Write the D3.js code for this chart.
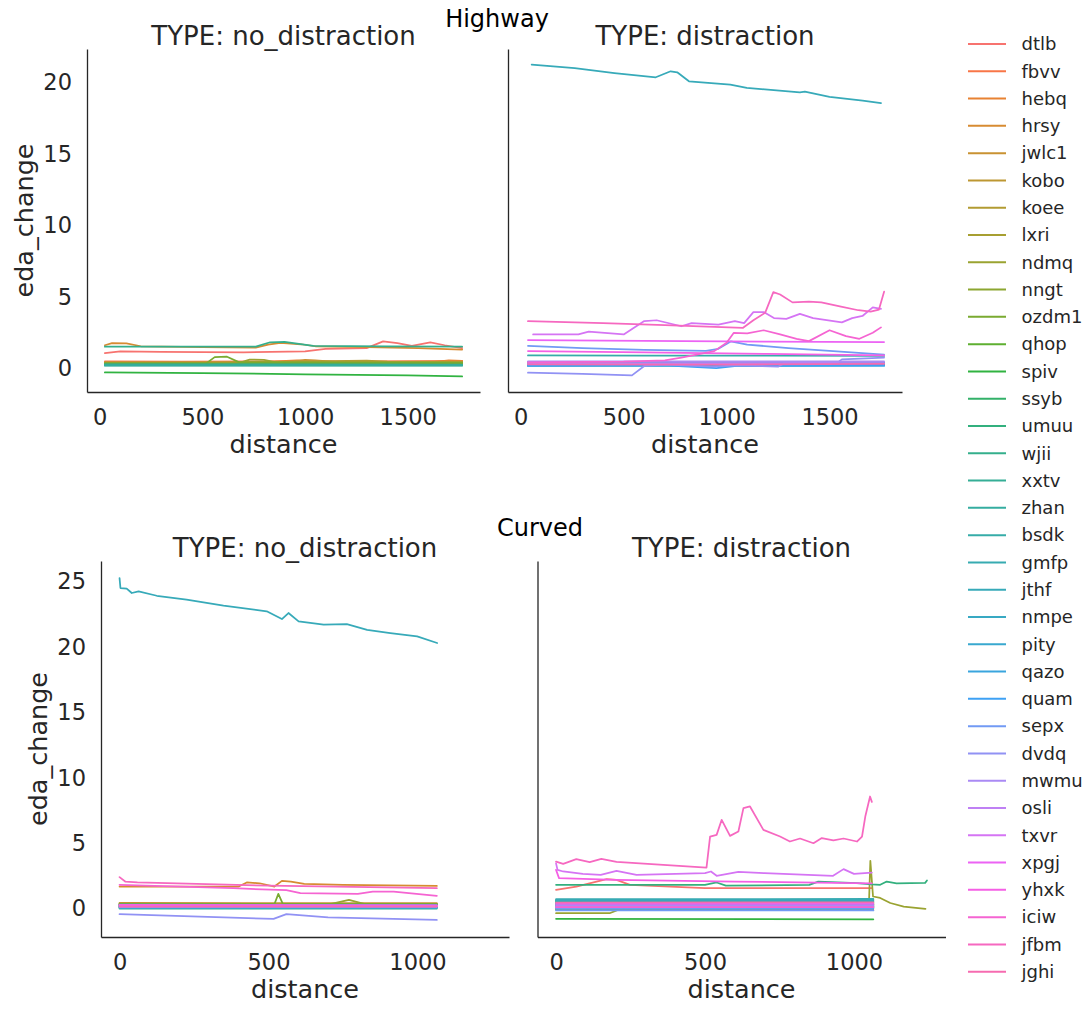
<!DOCTYPE html>
<html><head><meta charset="utf-8">
<script src="https://cdn.jsdelivr.net/npm/d3@7"></script>
<style>body{margin:0;background:#fff}svg{display:block}text{font-family:"DejaVu Sans",sans-serif}</style>
</head><body><svg id="c" width="1089" height="1011"></svg>
<script>
const participants = ["dtlb","fbvv","hebq","hrsy","jwlc1","kobo","koee","lxri","ndmq","nngt","ozdm1","qhop","spiv","ssyb","umuu","wjii","xxtv","zhan","bsdk","gmfp","jthf","nmpe","pity","qazo","quam","sepx","dvdq","mwmu","osli","txvr","xpgj","yhxk","iciw","jfbm","jghi"];
const hwXTicks = [0,500,1000,1500];
const hwYTicks = [0,5,10,15,20];
const cvXTicks = [0,500,1000];
const cvYTicks = [0,5,10,15,20,25];

// Highway, no_distraction: [participant, [distance, eda_change, ...]]
const hwNoDist = [
 ["dtlb",[25,1.0,100,1.12,300,1.08,700,1.05,1000,1.12,1100,1.3,1300,1.35,1380,1.82,1450,1.7,1520,1.5,1610,1.75,1680,1.55,1765,1.35]],
 ["fbvv",[25,0.42,400,0.4,900,0.43,1300,0.42,1765,0.45]],
 ["hebq",[25,0.3,700,0.32,960,0.5,1100,0.35,1600,0.33,1700,0.5,1765,0.45]],
 ["hrsy",[25,1.55,60,1.7,130,1.68,200,1.48,500,1.42,760,1.38,820,1.6,880,1.72,980,1.62,1050,1.48,1300,1.42,1550,1.35,1765,1.25]],
 ["jwlc1",[25,0.35,900,0.36,1000,0.52,1050,0.5,1150,0.38,1765,0.4]],
 ["kobo",[25,0.28,1765,0.3]],
 ["koee",[25,0.33,600,0.35,1300,0.48,1400,0.4,1765,0.38]],
 ["lxri",[25,0.22,1765,0.25]],
 ["ndmq",[25,0.3,680,0.32,730,0.55,800,0.52,860,0.35,1765,0.35]],
 ["nngt",[25,0.25,1765,0.28]],
 ["ozdm1",[25,0.28,520,0.3,560,0.72,620,0.75,680,0.35,1765,0.32]],
 ["qhop",[25,0.18,1765,0.2]],
 ["spiv",[25,-0.35,500,-0.4,1000,-0.48,1500,-0.56,1765,-0.63]],
 ["ssyb",[25,0.2,1765,0.18]],
 ["umuu",[25,0.15,1765,0.15]],
 ["wjii",[25,1.45,760,1.45,830,1.76,900,1.78,1040,1.5,1400,1.48,1765,1.45]],
 ["xxtv",[25,0.22,1765,0.2]],
 ["zhan",[25,0.12,1765,0.12]]
];

// Highway, distraction
const hwDist = [
 ["dtlb",[35,0.3,600,0.28,1200,0.3,1765,0.32]],
 ["fbvv",[35,0.15,1765,0.18]],
 ["hebq",[35,0.25,1765,0.22]],
 ["bsdk",[35,0.84,600,0.83,1200,0.82,1765,0.8]],
 ["gmfp",[35,0.3,1765,0.3]],
 ["jthf",[53,21.19,262,20.95,455,20.6,656,20.3,728,20.72,760,20.65,817,20.02,1018,19.79,1098,19.56,1356,19.25,1380,19.3,1500,18.93,1661,18.67,1750,18.5]],
 ["nmpe",[35,0.1,1765,0.12]],
 ["pity",[35,0.38,1765,0.36]],
 ["qazo",[35,0.2,1765,0.2]],
 ["quam",[35,0.1,700,0.15,950,-0.05,1050,0.1,1765,0.12]],
 ["sepx",[35,1.5,300,1.35,600,1.22,900,1.15,960,1.3,1020,1.82,1100,1.6,1300,1.35,1500,1.15,1765,0.9]],
 ["dvdq",[35,-0.37,300,-0.45,540,-0.56,600,0.1,700,0.2,930,0.05,1050,0.15,1250,0.05,1280,0.3,1540,0.35,1560,0.56,1765,0.68]],
 ["mwmu",[35,0.42,1765,0.42]],
 ["osli",[35,0.28,1765,0.3]],
 ["txvr",[60,2.31,280,2.31,330,2.5,500,2.31,600,3.24,660,3.3,780,2.88,830,3.1,960,3.0,1040,3.24,1085,3.1,1130,3.87,1180,3.87,1230,3.45,1290,3.4,1356,3.75,1420,3.45,1560,3.15,1610,3.45,1660,3.6,1710,4.2,1750,4.1]],
 ["xpgj",[35,1.91,600,1.85,1200,1.8,1765,1.77]],
 ["yhxk",[35,1.14,600,1.05,1200,0.95,1765,0.84]],
 ["iciw",[35,0.35,500,0.4,700,0.5,780,0.68,940,1.14,1000,1.72,1035,2.42,1100,2.38,1180,2.6,1260,2.31,1340,2.0,1400,1.84,1500,2.6,1580,2.19,1645,2.0,1710,2.42,1750,2.8]],
 ["jfbm",[35,3.24,400,3.1,700,2.95,1080,2.77,1130,3.3,1187,3.82,1227,5.27,1260,5.1,1320,4.55,1400,4.6,1460,4.55,1550,4.27,1640,4.0,1700,3.9,1740,4.05,1765,5.3]],
 ["jghi",[35,0.22,900,0.2,1765,0.25]]
];

// Curved, no_distraction
const cvNoDist = [
 ["dtlb",[0,0.2,1065,0.18]],
 ["fbvv",[0,0.1,1065,0.12]],
 ["hebq",[0,0.3,1065,0.28]],
 ["hrsy",[0,1.63,400,1.63,427,1.94,470,1.88,520,1.63,545,2.06,575,2.0,620,1.83,750,1.76,1065,1.68]],
 ["jwlc1",[0,0.38,1065,0.36]],
 ["kobo",[0,0.25,1065,0.25]],
 ["koee",[0,0.32,1065,0.3]],
 ["lxri",[0,0.15,1065,0.15]],
 ["ndmq",[0,0.25,700,0.25,770,0.61,830,0.25,1065,0.25]],
 ["nngt",[0,0.22,1065,0.2]],
 ["ozdm1",[0,0.3,520,0.3,533,1.07,548,0.3,1065,0.3]],
 ["qhop",[0,0.05,1065,0.05]],
 ["spiv",[0,0.1,1065,0.08]],
 ["ssyb",[0,0.0,1065,0.02]],
 ["umuu",[0,0.12,1065,0.1]],
 ["wjii",[0,0.18,1065,0.16]],
 ["xxtv",[0,-0.05,1065,-0.05]],
 ["zhan",[0,0.08,1065,0.06]],
 ["bsdk",[0,0.2,1065,0.2]],
 ["gmfp",[0,0.15,1065,0.12]],
 ["jthf",[0,25.2,3,24.44,24,24.4,41,24.06,64,24.18,125,23.85,225,23.55,349,23.09,494,22.66,545,22.07,567,22.53,601,21.89,685,21.64,763,21.68,831,21.25,909,21.0,999,20.74,1066,20.24]],
 ["nmpe",[0,0.05,1065,0.05]],
 ["pity",[0,0.25,1065,0.22]],
 ["qazo",[0,0.0,1065,0.0]],
 ["quam",[0,0.1,1065,0.1]],
 ["sepx",[0,0.18,1065,0.15]],
 ["dvdq",[0,-0.48,517,-0.84,560,-0.48,700,-0.72,1065,-0.92]],
 ["mwmu",[0,0.08,1065,0.1]],
 ["osli",[0,0.12,1065,0.12]],
 ["txvr",[0,0.2,1065,0.18]],
 ["xpgj",[0,0.15,1065,0.15]],
 ["yhxk",[0,0.22,1065,0.2]],
 ["iciw",[0,1.76,382,1.5,560,1.35,607,1.12,800,1.07,850,1.25,920,1.25,1065,0.92]],
 ["jfbm",[0,2.35,20,2.0,60,1.95,500,1.7,1065,1.5]],
 ["jghi",[0,0.1,1065,0.1]]
];

// Curved, distraction
const cvDist = [
 ["dtlb",[0,1.38,68,1.63,170,2.19,203,2.14,248,1.76,500,1.5,1060,1.5]],
 ["fbvv",[0,0.3,1065,0.3]],
 ["hebq",[0,0.45,1065,0.45]],
 ["hrsy",[0,0.2,1065,0.2]],
 ["jwlc1",[0,0.1,1065,0.12]],
 ["kobo",[0,0.35,1065,0.35]],
 ["koee",[0,-0.1,1065,-0.08]],
 ["lxri",[0,0.25,1065,0.25]],
 ["ndmq",[0,-0.41,180,-0.41,225,0.0,500,-0.05,560,-0.1,580,0.1,1050,0.1,1055,3.6,1064,0.87,1088,0.76,1122,0.37,1167,0.1,1240,-0.08]],
 ["nngt",[0,0.05,1065,0.05]],
 ["ozdm1",[0,-0.15,1065,-0.18]],
 ["qhop",[0,0.15,1065,0.15]],
 ["spiv",[0,-0.84,1065,-0.87]],
 ["ssyb",[0,0.0,1065,0.0]],
 ["umuu",[0,1.76,500,1.76,539,1.94,570,1.7,850,1.76,880,2.0,1010,1.9,1060,1.8,1088,1.76,1110,2.01,1143,1.88,1239,1.91,1245,2.09]],
 ["wjii",[0,0.55,1065,0.55]],
 ["xxtv",[0,0.6,1065,0.62]],
 ["zhan",[0,0.4,1065,0.4]],
 ["bsdk",[0,0.5,1065,0.5]],
 ["gmfp",[0,0.66,1065,0.68]],
 ["jthf",[0,0.58,1065,0.6]],
 ["nmpe",[0,0.3,1065,0.28]],
 ["pity",[0,0.2,1065,0.22]],
 ["qazo",[0,0.1,1065,0.1]],
 ["quam",[0,-0.05,1065,-0.05]],
 ["sepx",[0,-0.2,1065,-0.2]],
 ["dvdq",[0,0.0,1065,0.02]],
 ["mwmu",[0,0.2,1065,0.18]],
 ["osli",[0,0.1,1065,0.1]],
 ["txvr",[0,3.4,5,2.9,24,2.78,90,2.6,150,2.52,203,2.83,270,2.52,500,2.65,520,2.78,539,2.45,612,2.75,700,2.65,930,2.45,965,2.96,1000,2.6,1060,2.7]],
 ["xpgj",[0,0.3,1065,0.3]],
 ["yhxk",[0,2.9,10,2.27,200,2.14,600,2.01,1060,1.88]],
 ["iciw",[0,0.05,1065,0.05]],
 ["jfbm",[0,3.54,24,3.36,68,3.72,113,3.5,152,3.75,203,3.52,360,3.29,505,3.08,517,5.45,539,5.58,556,6.73,584,5.5,612,5.84,629,7.62,651,7.75,696,5.96,752,5.45,785,5.07,819,5.3,864,4.94,892,5.33,931,5.15,965,5.3,1010,5.07,1027,5.45,1038,6.98,1054,8.51,1060,8.1]],
 ["jghi",[0,0.4,1065,0.42]]
];

// ---- HUSL (seaborn husl_palette) ----
const HM = [[3.2406,-1.5372,-0.4986],[-0.9689,1.8758,0.0415],[0.0557,-0.2040,1.0570]];
const refU = 0.19784, refV = 0.46834, labE = 0.008856, labK = 903.3;
function maxChroma(L, H) {
  const hr = H / 180 * Math.PI, s = Math.sin(hr), c = Math.cos(hr);
  const sub1 = Math.pow(L + 16, 3) / 1560896;
  const sub2 = sub1 > labE ? sub1 : L / labK;
  let res = Infinity;
  for (const [m1, m2, m3] of HM) {
    const top = (0.99915 * m1 + 1.05122 * m2 + 1.14460 * m3) * sub2;
    const rb = 0.86330 * m3 - 0.17266 * m2;
    const lb = 0.12949 * m3 - 0.38848 * m1;
    const bottom = (rb * s + lb * c) * sub2;
    for (const t of [0, 1]) {
      const C = L * (top - 1.05122 * t) / (bottom + 0.17266 * s * t);
      if (C > 0 && C < res) res = C;
    }
  }
  return res;
}
function huslToRgb(H, S, L) {
  const C = maxChroma(L, H) / 100 * S;
  const hr = H / 180 * Math.PI;
  const U = Math.cos(hr) * C, V = Math.sin(hr) * C;
  const t = (L + 16) / 116;
  const varY = t * t * t > labE ? t * t * t : (116 * t - 16) / labK;
  const vU = U / (13 * L) + refU, vV = V / (13 * L) + refV;
  const Y = varY;
  const X = 0 - (9 * Y * vU) / ((vU - 4) * vV - vU * vV);
  const Z = (9 * Y - 15 * vV * Y - vV * X) / (3 * vV);
  const rgb = HM.map(r => {
    let v = r[0] * X + r[1] * Y + r[2] * Z;
    v = v <= 0.0031308 ? 12.92 * v : 1.055 * Math.pow(v, 1 / 2.4) - 0.055;
    return Math.round(Math.max(0, Math.min(1, v)) * 255);
  });
  return d3.rgb(rgb[0], rgb[1], rgb[2]).formatHex();
}
// husl wheel of (n + 2) hues, end hues dropped
const nP = participants.length, nWheel = nP + 2;
const palette = participants.map((p, i) => huslToRgb((((i + 1) / nWheel + 0.01) % 1) * 359, 0.9 * 99, 0.65 * 99));
const color = d3.scaleOrdinal().domain(participants).range(palette);

// ---- drawing ----
const svg = d3.select("#c");
const INK = "#262626";
const toPts = arr => d3.range(0, arr.length, 2).map(i => [arr[i], arr[i + 1]]);

function extentPad(vals) {
  const [a, b] = d3.extent(vals);
  const p = (b - a) * 0.05;
  return [a - p, b + p];
}

const groups = [
  { suptitle: "Highway", supX: 497, supY: 27, xt: hwXTicks, yt: hwYTicks,
    panels: [
      { data: hwNoDist, title: "TYPE: no_distraction", x0: 87, x1: 480, y0: 49, y1: 392, ylab: true },
      { data: hwDist, title: "TYPE: distraction", x0: 508, x1: 902, y0: 49, y1: 392, ylab: false }
    ] },
  { suptitle: "Curved", supX: 540, supY: 536, xt: cvXTicks, yt: cvYTicks,
    panels: [
      { data: cvNoDist, title: "TYPE: no_distraction", x0: 101, x1: 509, y0: 561, y1: 937, ylab: true },
      { data: cvDist, title: "TYPE: distraction", x0: 537.5, x1: 945.5, y0: 561, y1: 937, ylab: false }
    ] }
];

groups.forEach(g => {
  const allX = [], allY = [];
  g.panels.forEach(p => p.data.forEach(([, a]) => toPts(a).forEach(([x, y]) => { allX.push(x); allY.push(y); })));
  const xDom = extentPad(allX), yDom = extentPad(allY);

  svg.append("text").attr("x", g.supX).attr("y", g.supY).attr("text-anchor", "middle")
    .attr("font-size", 24).attr("fill", "#000").text(g.suptitle);

  g.panels.forEach(p => {
    const x = d3.scaleLinear().domain(xDom).range([p.x0, p.x1]);
    const y = d3.scaleLinear().domain(yDom).range([p.y1, p.y0]);
    const line = d3.line().x(d => x(d[0])).y(d => y(d[1]));
    const sorted = p.data.slice().sort((a, b) => participants.indexOf(a[0]) - participants.indexOf(b[0]));
    svg.append("g").selectAll("path").data(sorted).join("path")
      .attr("d", d => line(toPts(d[1])))
      .attr("fill", "none").attr("stroke", d => color(d[0]))
      .attr("stroke-width", 1.75).attr("stroke-linejoin", "round").attr("stroke-linecap", "round");

    const xa = svg.append("g").attr("transform", `translate(0,${p.y1})`)
      .call(d3.axisBottom(x).tickValues(g.xt).tickSize(0).tickSizeOuter(0).tickFormat(d3.format("d")));
    xa.selectAll("text").attr("y", 33).attr("dy", null).attr("font-size", 22.5).attr("fill", INK)
      .attr("font-family", "DejaVu Sans");
    const ya = svg.append("g").attr("transform", `translate(${p.x0},0)`)
      .call(d3.axisLeft(y).tickValues(p.ylab ? g.yt : []).tickSize(0).tickSizeOuter(0).tickPadding(15).tickFormat(d3.format("d")));
    ya.selectAll("text").attr("dy", "0.36em").attr("font-size", 22.5).attr("fill", INK)
      .attr("font-family", "DejaVu Sans");
    [xa, ya].forEach(a => a.select(".domain").attr("stroke", INK).attr("stroke-width", 1.3));

    svg.append("text").attr("x", (p.x0 + p.x1) / 2).attr("y", p.y1 + 61).attr("text-anchor", "middle")
      .attr("font-size", 25.5).attr("fill", INK).text("distance");
    if (p.ylab) {
      svg.append("text").attr("transform", `translate(${p.x0 - 54.5},${(p.y0 + p.y1) / 2}) rotate(-90)`)
        .attr("text-anchor", "middle").attr("font-size", 25.5).attr("fill", INK).text("eda_change");
    }
    svg.append("text").attr("x", (p.x0 + p.x1) / 2).attr("y", p.y0 - 4).attr("text-anchor", "middle")
      .attr("font-size", 26).attr("fill", INK).text(p.title);
  });
});

// ---- legend ----
const lg = svg.append("g");
const ly = d3.scalePoint().domain(participants).range([44, 971.7]);
participants.forEach(name => {
  lg.append("line").attr("x1", 968).attr("x2", 1006).attr("y1", ly(name)).attr("y2", ly(name))
    .attr("stroke", color(name)).attr("stroke-width", 2);
  lg.append("text").attr("x", 1021.5).attr("y", ly(name) + 6.3).attr("font-size", 18)
    .attr("fill", INK).text(name);
});
</script></body></html>
